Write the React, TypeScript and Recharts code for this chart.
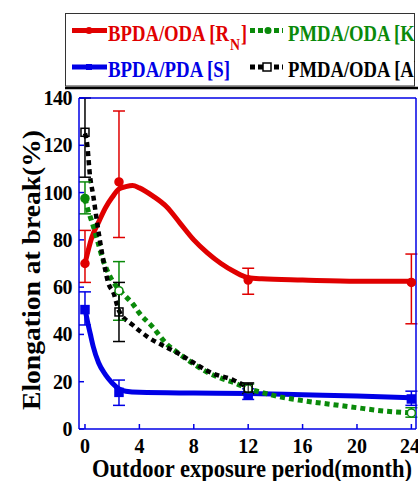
import React from "react";
import { ComposedChart, Line, XAxis, YAxis, ErrorBar } from "recharts";

// smooth fitted curves
const redCurveMonths = [0, 0.5, 1, 1.5, 2, 2.5, 3, 3.5, 4, 5, 6, 7, 8, 9, 10, 11, 12, 13, 16, 20, 24];
const redCurveVals = [70, 81, 87.5, 93.5, 98, 101.5, 102.5, 103, 102, 98.5, 94, 87, 80, 74.5, 70, 66.5, 64, 63.5, 63, 62.5, 62.5];

const blueCurveMonths = [0, 0.2, 0.4, 0.6, 1, 1.5, 2, 2.5, 3, 4, 8, 12, 16, 20, 24];
const blueCurveVals = [51, 45, 40, 35, 28, 23, 19.5, 17, 16, 15.5, 15.2, 15, 14.5, 14, 13.2];

const greenCurveMonths = [0, 0.2, 0.4, 0.6, 1, 1.3, 1.8, 2.5, 3, 3.5, 4, 5, 6, 7, 8, 9, 10, 11, 12, 13, 14, 16, 18, 20, 22, 24];
const greenCurveVals = [97.5, 93, 89.5, 86, 78, 72, 65, 59, 56, 53, 49, 43, 36, 31.5, 27.5, 24, 21.5, 19.5, 17, 15.5, 14, 12, 10.5, 9, 7.6, 6.8];

const blackCurveMonths = [0, 0.15, 0.37, 0.6, 0.9, 1.25, 1.5, 1.7, 2.1, 2.5, 3.5, 4.6, 6, 7, 8, 9.2, 10.9, 12];
const blackCurveVals = [125, 121, 107, 99, 87, 74.5, 67, 62, 57.5, 50, 44, 39, 34.5, 31.5, 28, 24, 20.7, 17.5];

// measured points with error bars
const redMonths = [0, 2.5, 12, 24];
const redVals = [70, 104.5, 63, 62];
const redLow = [62, 81, 57, 44.5];
const redHigh = [84, 134.5, 68, 74];

const blueMonths = [0, 2.5, 12, 24];
const blueVals = [50.5, 15.5, 14.5, 12.7];
const blueLow = [44, 10, 12.5, 10];
const blueHigh = [58, 20.7, 17, 16];

const greenMonths = [0, 2.5, 12, 24];
const greenVals = [97.5, 58.5, 17, 6.8];
const greenLow = [91, 46, 15, 5];
const greenHigh = [104.5, 70.8, 19, 9];

const blackMonths = [0, 2.5, 12];
const blackVals = [125.5, 49.5, 17.3];
const blackLow = [106.5, 37, 15];
const blackHigh = [140, 62, 19.5];

const xTicks = [0, 4, 8, 12, 16, 20, 24];
const yTicks = [0, 20, 40, 60, 80, 100, 120, 140];

const RED = "#e00000";
const BLUE = "#0000e6";
const GREEN = "#0a8a0a";
const BLACK = "#000000";
const FONT = "'Liberation Serif', 'DejaVu Serif', serif";

const curve = (xs: number[], ys: number[]) => xs.map((x, i) => ({ x, y: ys[i] }));
const points = (xs: number[], ys: number[], lo: number[], hi: number[]) =>
  xs.map((x, i) => ({ x, y: ys[i], err: [ys[i] - lo[i], hi[i] - ys[i]] }));

// green: first point filled, the rest open
const circleDot = (color: string, open: boolean) => (p: any) =>
  <circle key={p.index} cx={p.cx} cy={p.cy} r={4} fill={open && p.index > 0 ? "white" : color} stroke={color} strokeWidth={1.5} />;
const squareDot = (color: string, open: boolean) => (p: any) => (
  <g key={p.index}>
    <rect x={p.cx - 4} y={p.cy - 4} width={8} height={8} fill={open ? "none" : color} stroke={color} strokeWidth={1.5} />
    {open && <line x1={p.cx} y1={p.cy - 4} x2={p.cx} y2={p.cy + 4} stroke={color} strokeWidth={1} />}
  </g>
);

const XTick = (p: any) => (
  <text x={p.x} y={453} textAnchor="middle" fontFamily={FONT} fontWeight="bold" fontSize={20} fill="#000">
    {p.payload.value}
  </text>
);
const YTick = (p: any) => (
  <text x={72} y={p.y + 7} textAnchor="end" fontFamily={FONT} fontWeight="bold" fontSize={20} fill="#000" letterSpacing={-0.5}>
    {p.payload.value}
  </text>
);

export default function App() {
  const series = [
    { c: curve(redCurveMonths, redCurveVals), color: RED, dash: undefined, w: 5 },
    { c: curve(blueCurveMonths, blueCurveVals), color: BLUE, dash: undefined, w: 5 },
    { c: curve(greenCurveMonths, greenCurveVals), color: GREEN, dash: "5 4", w: 5 },
    { c: curve(blackCurveMonths, blackCurveVals), color: BLACK, dash: "5 4", w: 4.5 },
  ];
  const marks = [
    { d: points(redMonths, redVals, redLow, redHigh), color: RED, dot: circleDot(RED, false) },
    { d: points(blueMonths, blueVals, blueLow, blueHigh), color: BLUE, dot: squareDot(BLUE, false) },
    { d: points(greenMonths, greenVals, greenLow, greenHigh), color: GREEN, dot: circleDot(GREEN, true) },
    { d: points(blackMonths, blackVals, blackLow, blackHigh), color: BLACK, dot: squareDot(BLACK, true) },
  ];
  const axisLine = { stroke: BLUE, strokeWidth: 1.5 };
  const tickLine = { stroke: BLUE, strokeWidth: 1.5 };

  return (
    <div style={{ position: "absolute", left: 0, top: 0, width: 418, height: 481, overflow: "hidden", background: "#fff" }}>
      <ComposedChart width={418} height={481} margin={{ top: 97, right: 1, bottom: 51, left: 78 }}>
        <XAxis xAxisId="b" type="number" dataKey="x" domain={[-0.44, 24.34]} ticks={xTicks}
          height={1} tickSize={-5} axisLine={axisLine} tickLine={tickLine} tick={XTick} allowDataOverflow />
        <XAxis xAxisId="t" orientation="top" type="number" dataKey="x" domain={[-0.44, 24.34]} ticks={xTicks}
          height={1} tickSize={-5} axisLine={axisLine} tickLine={tickLine} tick={false} allowDataOverflow />
        <YAxis yAxisId="l" type="number" domain={[0, 140]} ticks={yTicks} width={1} tickSize={-5}
          axisLine={axisLine} tickLine={tickLine} tick={YTick} allowDataOverflow />
        <YAxis yAxisId="r" orientation="right" type="number" domain={[0, 140]} ticks={yTicks} width={1} tickSize={-5}
          axisLine={axisLine} tickLine={tickLine} tick={false} allowDataOverflow />
        {series.map((s, i) => (
          <Line key={"c" + i} xAxisId="b" yAxisId="l" data={s.c} dataKey="y" type="monotone" stroke={s.color}
            strokeWidth={s.w} strokeDasharray={s.dash} dot={false} activeDot={false} isAnimationActive={false} />
        ))}
        {marks.map((m, i) => (
          <Line key={"m" + i} xAxisId="b" yAxisId="l" data={m.d} dataKey="y" stroke="none" dot={m.dot}
            activeDot={false} isAnimationActive={false}>
            <ErrorBar dataKey="err" direction="y" width={6} stroke={m.color} strokeWidth={1.5} />
          </Line>
        ))}
      </ComposedChart>

      <svg width={418} height={481} style={{ position: "absolute", left: 0, top: 0, pointerEvents: "none" }}>
        <defs>
          <clipPath id="legclip"><rect x={65} y={13} width={350} height={76} /></clipPath>
        </defs>
        <rect x={65.5} y={13.5} width={349} height={72.5} fill="#fff" stroke="#333" strokeWidth={1} />
        <line x1={65} y1={88} x2={418} y2={88} stroke="#000" strokeWidth={2.5} />
        <g clipPath="url(#legclip)" fontFamily={FONT} fontWeight="bold">
          <line x1={72} y1={30.5} x2={107} y2={30.5} stroke={RED} strokeWidth={5} />
          <circle cx={89} cy={30.5} r={3.5} fill={RED} />
          <text x={108} y={41} fontSize={24} fill={RED} textLength={121} lengthAdjust="spacingAndGlyphs">BPDA/ODA [R</text>
          <text x={230} y={50} fontSize={16} fill={RED} textLength={10} lengthAdjust="spacingAndGlyphs">N</text>
          <text x={241} y={41} fontSize={24} fill={RED} textLength={6} lengthAdjust="spacingAndGlyphs">]</text>

          <line x1={250} y1={30.5} x2={283} y2={30.5} stroke={GREEN} strokeWidth={5} strokeDasharray="5 3" />
          <circle cx={268} cy={30.5} r={3.5} fill={GREEN} />
          <text x={288} y={41} fontSize={24} fill={GREEN} textLength={133} lengthAdjust="spacingAndGlyphs">PMDA/ODA [K]</text>

          <line x1={72} y1={67} x2={107} y2={67} stroke={BLUE} strokeWidth={5} />
          <rect x={86} y={64} width={6} height={6} fill={BLUE} />
          <text x={108} y={77} fontSize={24} fill={BLUE} textLength={122} lengthAdjust="spacingAndGlyphs">BPDA/PDA [S]</text>

          <line x1={250} y1={67} x2={283} y2={67} stroke={BLACK} strokeWidth={5} strokeDasharray="5 3" />
          <rect x={263} y={63} width={8} height={8} fill="#fff" stroke={BLACK} strokeWidth={1.5} />
          <text x={288} y={77} fontSize={24} fill={BLACK} textLength={132} lengthAdjust="spacingAndGlyphs">PMDA/ODA [A]</text>
        </g>
        <text transform="translate(40,270) rotate(-90)" textAnchor="middle" fontFamily={FONT} fontWeight="bold"
          fontSize={25} fill="#000" textLength={280} lengthAdjust="spacingAndGlyphs">Elongation at break(%)</text>
        <text x={92} y={477} fontFamily={FONT} fontWeight="bold" fontSize={25} fill="#000"
          textLength={320} lengthAdjust="spacingAndGlyphs">Outdoor exposure period(month)</text>
      </svg>
    </div>
  );
}
